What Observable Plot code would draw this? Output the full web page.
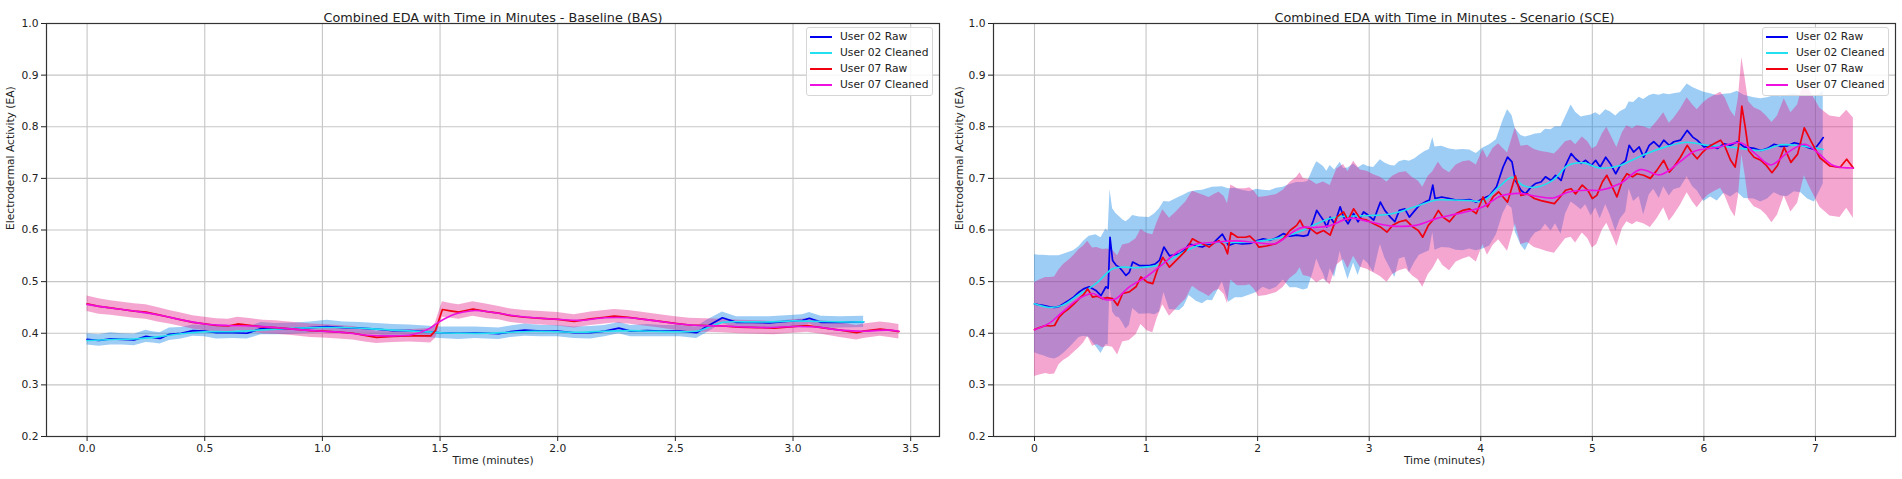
<!DOCTYPE html>
<html><head><meta charset="utf-8">
<script src="https://cdn.jsdelivr.net/npm/d3@7"></script>
<script src="https://cdn.jsdelivr.net/npm/@observablehq/plot@0.6"></script>
<style>
body{margin:0;background:#fff;}
#wrap{position:relative;width:1902px;height:479px;overflow:hidden;background:#fff;font-family:"DejaVu Sans",sans-serif;}
.pane{position:absolute;top:0;}
.legend{position:absolute;top:27px;width:125px;height:67px;border:1px solid #d6d6d6;border-radius:3px;background:rgba(255,255,255,0.85);font-size:10.7px;color:#222;}
.item{position:absolute;left:0;height:16px;width:125px;}
.sw{position:absolute;left:3px;top:7px;width:22px;height:2px;}
.lb{position:absolute;left:33px;top:0;line-height:16px;white-space:nowrap;}
</style></head><body><div id="wrap"></div>
<script>
// ---------- shared ----------
const seriesNames = ["User 02 Raw", "User 02 Cleaned", "User 07 Raw", "User 07 Cleaned"];
const seriesColors = ["#0000f0", "#22e0f0", "#f00010", "#ee10e0"];
const yTicks = [0.2, 0.3, 0.4, 0.5, 0.6, 0.7, 0.8, 0.9, 1.0];
const basXTicks = [0, 0.5, 1.0, 1.5, 2.0, 2.5, 3.0, 3.5];
const sceXTicks = [0, 1, 2, 3, 4, 5, 6, 7];
const basTitle = "Combined EDA with Time in Minutes - Baseline (BAS)";
const sceTitle = "Combined EDA with Time in Minutes - Scenario (SCE)";

// ---------- Baseline: [time, value, spread] ----------
const bas02Raw = [[0.00,0.388,0.011],[0.05,0.386,0.011],[0.10,0.389,0.012],[0.15,0.388,0.011],[0.20,0.387,0.011],[0.25,0.394,0.012],[0.28,0.392,0.011],[0.31,0.390,0.011],[0.35,0.398,0.012],[0.40,0.400,0.011],[0.45,0.405,0.011],[0.50,0.404,0.011],[0.55,0.401,0.012],[0.62,0.401,0.011],[0.68,0.400,0.011],[0.74,0.409,0.012],[0.80,0.408,0.011],[0.88,0.409,0.011],[0.95,0.411,0.011],[1.02,0.413,0.012],[1.09,0.411,0.011],[1.16,0.410,0.011],[1.23,0.408,0.011],[1.30,0.405,0.012],[1.37,0.405,0.011],[1.44,0.403,0.011],[1.50,0.401,0.011],[1.58,0.400,0.012],[1.65,0.401,0.011],[1.75,0.399,0.011],[1.80,0.403,0.011],[1.86,0.406,0.012],[1.93,0.404,0.011],[2.00,0.404,0.011],[2.07,0.401,0.011],[2.14,0.401,0.012],[2.20,0.404,0.011],[2.26,0.410,0.011],[2.31,0.404,0.011],[2.38,0.405,0.012],[2.45,0.404,0.011],[2.52,0.404,0.011],[2.59,0.401,0.011],[2.63,0.412,0.012],[2.70,0.430,0.011],[2.76,0.421,0.011],[2.83,0.421,0.011],[2.90,0.420,0.012],[2.97,0.423,0.011],[3.04,0.425,0.011],[3.07,0.429,0.011],[3.12,0.421,0.012],[3.20,0.421,0.011],[3.30,0.422,0.011]];
const bas02Clean = [[0.00,0.386],[0.10,0.388],[0.20,0.389],[0.30,0.393],[0.40,0.399],[0.50,0.403],[0.60,0.403],[0.70,0.405],[0.80,0.408],[0.90,0.410],[1.00,0.411],[1.10,0.411],[1.20,0.409],[1.30,0.406],[1.40,0.404],[1.50,0.401],[1.60,0.400],[1.70,0.400],[1.80,0.402],[1.90,0.404],[2.00,0.403],[2.10,0.402],[2.20,0.404],[2.30,0.405],[2.40,0.404],[2.50,0.403],[2.60,0.405],[2.65,0.413],[2.70,0.421],[2.80,0.422],[2.90,0.422],[3.00,0.424],[3.10,0.423],[3.20,0.422],[3.30,0.422]];
const bas07Raw = [[0.00,0.457,0.015],[0.05,0.452,0.015],[0.10,0.449,0.014],[0.15,0.446,0.014],[0.20,0.443,0.014],[0.25,0.441,0.014],[0.30,0.436,0.014],[0.35,0.431,0.013],[0.40,0.426,0.013],[0.45,0.421,0.013],[0.50,0.418,0.013],[0.55,0.415,0.013],[0.60,0.414,0.013],[0.64,0.418,0.013],[0.70,0.415,0.013],[0.75,0.412,0.013],[0.80,0.411,0.013],[0.88,0.408,0.013],[0.95,0.405,0.013],[1.00,0.404,0.013],[1.07,0.402,0.013],[1.13,0.400,0.013],[1.18,0.396,0.013],[1.23,0.392,0.012],[1.30,0.394,0.012],[1.37,0.395,0.012],[1.42,0.395,0.013],[1.46,0.395,0.014],[1.48,0.405,0.015],[1.51,0.446,0.015],[1.55,0.443,0.014],[1.58,0.441,0.014],[1.64,0.447,0.014],[1.70,0.442,0.014],[1.75,0.439,0.013],[1.80,0.434,0.013],[1.86,0.431,0.013],[1.93,0.429,0.013],[2.00,0.427,0.013],[2.07,0.423,0.013],[2.14,0.428,0.013],[2.20,0.431,0.013],[2.24,0.433,0.013],[2.30,0.431,0.013],[2.35,0.428,0.013],[2.42,0.424,0.013],[2.50,0.419,0.013],[2.56,0.416,0.013],[2.63,0.415,0.013],[2.70,0.414,0.013],[2.77,0.412,0.013],[2.85,0.411,0.013],[2.92,0.410,0.013],[3.00,0.413,0.013],[3.06,0.415,0.013],[3.12,0.411,0.013],[3.20,0.406,0.014],[3.27,0.401,0.014],[3.30,0.404,0.014],[3.37,0.408,0.014],[3.41,0.406,0.014],[3.45,0.403,0.014]];
const bas07Clean = [[0.00,0.456],[0.10,0.449],[0.20,0.443],[0.30,0.436],[0.40,0.426],[0.50,0.418],[0.60,0.415],[0.70,0.414],[0.80,0.411],[0.90,0.407],[1.00,0.404],[1.10,0.401],[1.20,0.396],[1.30,0.395],[1.38,0.397],[1.45,0.408],[1.50,0.423],[1.55,0.435],[1.60,0.441],[1.65,0.444],[1.70,0.442],[1.80,0.435],[1.90,0.430],[2.00,0.427],[2.10,0.425],[2.20,0.430],[2.30,0.430],[2.40,0.425],[2.50,0.419],[2.60,0.415],[2.70,0.414],[2.80,0.412],[2.90,0.411],[3.00,0.413],[3.10,0.412],[3.20,0.406],[3.30,0.404],[3.40,0.406],[3.45,0.404]];

// ---------- Scenario: [time, value, spread] ----------
const sce02Raw = [[0.000,0.457,0.095],[0.040,0.455,0.096],[0.075,0.454,0.097],[0.134,0.451,0.099],[0.180,0.450,0.100],[0.220,0.452,0.098],[0.260,0.457,0.096],[0.310,0.464,0.093],[0.350,0.470,0.090],[0.400,0.480,0.088],[0.440,0.486,0.092],[0.490,0.490,0.098],[0.550,0.483,0.108],[0.596,0.473,0.112],[0.640,0.490,0.112],[0.660,0.487,0.110],[0.677,0.586,0.092],[0.700,0.541,0.100],[0.730,0.532,0.100],[0.760,0.528,0.098],[0.790,0.520,0.100],[0.820,0.512,0.104],[0.850,0.518,0.103],[0.880,0.538,0.090],[0.940,0.531,0.094],[1.030,0.531,0.093],[1.080,0.534,0.098],[1.120,0.541,0.100],[1.160,0.567,0.088],[1.210,0.550,0.104],[1.300,0.554,0.110],[1.340,0.560,0.108],[1.386,0.573,0.100],[1.450,0.569,0.107],[1.505,0.567,0.110],[1.550,0.572,0.108],[1.595,0.573,0.110],[1.684,0.592,0.092],[1.740,0.570,0.110],[1.800,0.575,0.106],[1.860,0.573,0.104],[1.930,0.574,0.100],[1.990,0.579,0.100],[2.050,0.583,0.094],[2.110,0.580,0.096],[2.170,0.585,0.096],[2.230,0.593,0.090],[2.290,0.588,0.100],[2.350,0.590,0.102],[2.410,0.588,0.104],[2.450,0.590,0.104],[2.500,0.619,0.100],[2.530,0.638,0.094],[2.560,0.628,0.100],[2.590,0.619,0.104],[2.620,0.606,0.108],[2.650,0.625,0.100],[2.690,0.612,0.104],[2.740,0.645,0.086],[2.770,0.625,0.094],[2.810,0.612,0.108],[2.860,0.632,0.096],[2.900,0.616,0.104],[2.950,0.635,0.092],[2.990,0.629,0.094],[3.040,0.619,0.102],[3.100,0.654,0.082],[3.140,0.638,0.092],[3.190,0.625,0.100],[3.230,0.616,0.108],[3.270,0.638,0.094],[3.320,0.641,0.094],[3.360,0.625,0.108],[3.410,0.638,0.100],[3.450,0.648,0.097],[3.500,0.654,0.098],[3.540,0.658,0.098],[3.570,0.687,0.092],[3.590,0.661,0.100],[3.650,0.664,0.098],[3.720,0.661,0.096],[3.780,0.658,0.097],[3.840,0.658,0.098],[3.900,0.659,0.096],[3.960,0.654,0.094],[4.020,0.661,0.098],[4.080,0.667,0.098],[4.140,0.683,0.092],[4.200,0.722,0.090],[4.240,0.741,0.092],[4.280,0.732,0.090],[4.310,0.696,0.100],[4.360,0.677,0.106],[4.400,0.670,0.110],[4.450,0.683,0.100],[4.490,0.690,0.096],[4.540,0.693,0.094],[4.580,0.703,0.092],[4.630,0.696,0.098],[4.670,0.706,0.094],[4.720,0.696,0.104],[4.760,0.725,0.094],[4.810,0.748,0.094],[4.850,0.738,0.090],[4.900,0.729,0.090],[4.940,0.735,0.086],[4.990,0.725,0.098],[5.030,0.735,0.092],[5.070,0.722,0.100],[5.120,0.741,0.092],[5.160,0.729,0.100],[5.210,0.709,0.112],[5.250,0.725,0.104],[5.300,0.735,0.100],[5.330,0.764,0.084],[5.370,0.751,0.096],[5.420,0.761,0.096],[5.460,0.741,0.112],[5.510,0.764,0.096],[5.550,0.771,0.092],[5.600,0.761,0.100],[5.640,0.774,0.090],[5.690,0.764,0.098],[5.730,0.771,0.093],[5.790,0.774,0.092],[5.850,0.793,0.090],[5.900,0.780,0.096],[5.940,0.774,0.098],[6.000,0.761,0.106],[6.060,0.764,0.100],[6.120,0.758,0.102],[6.180,0.767,0.096],[6.240,0.764,0.100],[6.300,0.771,0.098],[6.360,0.761,0.100],[6.450,0.758,0.098],[6.510,0.754,0.100],[6.570,0.758,0.098],[6.630,0.766,0.094],[6.690,0.762,0.096],[6.750,0.763,0.098],[6.810,0.769,0.095],[6.870,0.766,0.094],[6.930,0.760,0.100],[6.990,0.756,0.102],[7.040,0.770,0.094],[7.070,0.779,0.090]];
const sce02Clean = [[0.00,0.457],[0.13,0.450],[0.25,0.454],[0.40,0.475],[0.55,0.496],[0.70,0.525],[0.79,0.528],[0.91,0.527],[1.09,0.531],[1.21,0.542],[1.36,0.560],[1.50,0.572],[1.68,0.576],[1.86,0.576],[2.04,0.579],[2.22,0.586],[2.40,0.599],[2.53,0.612],[2.64,0.622],[2.74,0.626],[2.86,0.627],[3.00,0.628],[3.16,0.630],[3.30,0.637],[3.45,0.648],[3.60,0.658],[3.75,0.658],[3.90,0.657],[4.02,0.656],[4.17,0.685],[4.28,0.702],[4.38,0.686],[4.50,0.683],[4.65,0.697],[4.78,0.725],[4.92,0.730],[5.07,0.720],[5.25,0.725],[5.43,0.743],[5.67,0.762],[5.85,0.770],[6.03,0.764],[6.27,0.760],[6.51,0.754],[6.69,0.765],[6.87,0.763],[7.07,0.756]];
const sce07Raw = [[0.000,0.407,0.091],[0.045,0.411,0.092],[0.100,0.415,0.093],[0.140,0.414,0.094],[0.180,0.415,0.094],[0.220,0.431,0.092],[0.260,0.440,0.093],[0.310,0.448,0.094],[0.350,0.456,0.094],[0.400,0.467,0.095],[0.440,0.475,0.094],[0.477,0.486,0.092],[0.520,0.470,0.095],[0.560,0.472,0.094],[0.610,0.467,0.095],[0.650,0.469,0.094],[0.700,0.467,0.094],[0.745,0.454,0.096],[0.790,0.477,0.094],[0.850,0.480,0.094],[0.910,0.490,0.093],[0.954,0.509,0.092],[1.010,0.499,0.094],[1.060,0.496,0.095],[1.100,0.522,0.093],[1.150,0.547,0.092],[1.210,0.528,0.095],[1.270,0.541,0.094],[1.310,0.550,0.094],[1.356,0.560,0.094],[1.416,0.583,0.092],[1.475,0.576,0.094],[1.520,0.572,0.095],[1.565,0.567,0.096],[1.610,0.575,0.094],[1.654,0.579,0.094],[1.700,0.570,0.095],[1.730,0.554,0.097],[1.760,0.595,0.092],[1.820,0.586,0.094],[1.890,0.586,0.094],[1.930,0.588,0.094],[1.970,0.580,0.095],[2.010,0.567,0.096],[2.080,0.569,0.096],[2.170,0.574,0.095],[2.230,0.583,0.094],[2.290,0.599,0.093],[2.350,0.609,0.093],[2.380,0.619,0.092],[2.410,0.606,0.094],[2.470,0.603,0.094],[2.530,0.593,0.095],[2.590,0.599,0.094],[2.650,0.590,0.096],[2.710,0.625,0.093],[2.770,0.635,0.092],[2.810,0.619,0.094],[2.860,0.641,0.092],[2.920,0.622,0.094],[2.980,0.619,0.095],[3.040,0.612,0.095],[3.100,0.606,0.096],[3.160,0.596,0.097],[3.210,0.609,0.095],[3.270,0.616,0.095],[3.330,0.619,0.094],[3.390,0.606,0.095],[3.440,0.599,0.096],[3.480,0.586,0.097],[3.530,0.609,0.095],[3.570,0.619,0.094],[3.620,0.638,0.093],[3.660,0.625,0.094],[3.720,0.616,0.095],[3.780,0.632,0.094],[3.840,0.638,0.094],[3.900,0.641,0.093],[3.960,0.632,0.094],[4.020,0.664,0.092],[4.060,0.645,0.094],[4.110,0.664,0.094],[4.160,0.674,0.093],[4.200,0.664,0.094],[4.240,0.654,0.095],[4.310,0.705,0.093],[4.360,0.667,0.095],[4.420,0.670,0.094],[4.480,0.661,0.095],[4.540,0.657,0.095],[4.600,0.654,0.096],[4.660,0.651,0.096],[4.700,0.661,0.095],[4.760,0.677,0.094],[4.810,0.680,0.094],[4.850,0.670,0.095],[4.910,0.687,0.093],[4.960,0.677,0.094],[5.000,0.661,0.096],[5.040,0.667,0.095],[5.090,0.693,0.093],[5.130,0.706,0.093],[5.180,0.683,0.094],[5.220,0.664,0.096],[5.270,0.696,0.093],[5.310,0.709,0.093],[5.360,0.703,0.093],[5.400,0.709,0.093],[5.460,0.706,0.094],[5.520,0.700,0.095],[5.580,0.716,0.094],[5.640,0.735,0.092],[5.690,0.712,0.095],[5.730,0.722,0.094],[5.790,0.741,0.093],[5.850,0.764,0.092],[5.900,0.748,0.094],[5.940,0.738,0.095],[5.990,0.751,0.094],[6.040,0.761,0.093],[6.090,0.767,0.093],[6.150,0.774,0.093],[6.190,0.761,0.095],[6.240,0.735,0.096],[6.280,0.722,0.097],[6.310,0.761,0.095],[6.340,0.840,0.094],[6.370,0.800,0.094],[6.400,0.754,0.095],[6.450,0.741,0.096],[6.510,0.735,0.096],[6.560,0.725,0.096],[6.610,0.711,0.097],[6.660,0.725,0.096],[6.720,0.760,0.094],[6.780,0.731,0.096],[6.840,0.747,0.095],[6.900,0.798,0.093],[6.960,0.772,0.094],[7.040,0.740,0.096],[7.130,0.724,0.097],[7.220,0.721,0.097],[7.280,0.737,0.095],[7.340,0.720,0.097]];
const sce07Clean = [[0.00,0.407],[0.13,0.419],[0.25,0.441],[0.40,0.467],[0.52,0.477],[0.64,0.465],[0.73,0.467],[0.85,0.490],[1.00,0.509],[1.15,0.534],[1.30,0.560],[1.45,0.573],[1.62,0.576],[1.80,0.579],[1.98,0.576],[2.16,0.574],[2.38,0.604],[2.52,0.605],[2.64,0.608],[2.83,0.623],[3.00,0.616],[3.19,0.608],[3.42,0.609],[3.60,0.622],[3.72,0.628],[3.90,0.637],[4.02,0.645],[4.18,0.666],[4.35,0.671],[4.48,0.666],[4.65,0.662],[4.78,0.673],[4.95,0.677],[5.07,0.677],[5.25,0.690],[5.43,0.717],[5.61,0.707],[5.79,0.733],[5.91,0.752],[6.12,0.760],[6.33,0.769],[6.45,0.750],[6.60,0.726],[6.75,0.750],[6.90,0.766],[7.01,0.752],[7.16,0.725],[7.34,0.720]];

// ---------- drawing ----------
const wrap = document.getElementById("wrap");
const fx = d => d[0], fy = d => d[1];

function panel(o) {
  const chart = Plot.plot({
    width: o.width, height: 479,
    marginTop: 23, marginBottom: 43, marginLeft: o.marginLeft, marginRight: o.marginRight,
    style: {fontFamily: "DejaVu Sans", fontSize: "10.7px", color: "#222", background: "#fff"},
    x: {domain: o.xDomain, label: null},
    y: {domain: [0.2, 1.0], label: null},
    marks: [
      Plot.gridX(o.xTicks, {stroke: "#c6c6c6", strokeOpacity: 1, strokeWidth: 1.1}),
      Plot.gridY(yTicks, {stroke: "#c6c6c6", strokeOpacity: 1, strokeWidth: 1.1}),
      Plot.areaY(o.raw02, {x: fx, y1: d => d[1] - d[2], y2: d => d[1] + d[2], fill: "#0a7fe6", fillOpacity: 0.4}),
      Plot.areaY(o.raw07, {x: fx, y1: d => d[1] - d[2], y2: d => d[1] + d[2], fill: "#e3208c", fillOpacity: 0.4}),
      Plot.line(o.raw02, {x: fx, y: fy, stroke: seriesColors[0], strokeWidth: 1.7}),
      Plot.line(o.clean02, {x: fx, y: fy, stroke: seriesColors[1], strokeWidth: 1.6, curve: "catmull-rom"}),
      Plot.line(o.raw07, {x: fx, y: fy, stroke: seriesColors[2], strokeWidth: 1.7}),
      Plot.line(o.clean07, {x: fx, y: fy, stroke: seriesColors[3], strokeWidth: 1.6, curve: "catmull-rom"}),
      Plot.frame({stroke: "#333", strokeWidth: 1.2}),
      Plot.axisX({ticks: o.xTicks, tickFormat: o.xFmt, tickSize: 5, tickPadding: 3, label: null}),
      Plot.axisY({ticks: yTicks, tickFormat: d3.format(".1f"), tickSize: 5, tickPadding: 3, label: null}),
      Plot.text([o.title], {text: d => d, frameAnchor: "top", dy: -11, fontSize: 12.8, fill: "#222"}),
      Plot.text(["Time (minutes)"], {text: d => d, frameAnchor: "bottom", dy: 27.5, fontSize: 10.7, fill: "#222"}),
      Plot.text(["Electrodermal Activity (EA)"], {text: d => d, frameAnchor: "left", rotate: -90, dx: -o.yLabelGap, fontSize: 10.7, fill: "#222"})
    ]
  });
  const pane = document.createElement("div");
  pane.className = "pane";
  pane.style.left = o.left + "px";
  pane.appendChild(chart);
  wrap.appendChild(pane);

  const lg = document.createElement("div");
  lg.className = "legend";
  lg.style.left = o.legendLeft + "px";
  seriesNames.forEach((name, i) => {
    const it = document.createElement("div");
    it.className = "item";
    it.style.top = (i * 16.2 + 0.7) + "px";
    const sw = document.createElement("div");
    sw.className = "sw"; sw.style.background = seriesColors[i];
    const lb = document.createElement("div");
    lb.className = "lb"; lb.textContent = name;
    it.appendChild(sw); it.appendChild(lb);
    lg.appendChild(it);
  });
  wrap.appendChild(lg);
}

panel({
  left: 0, width: 950, marginLeft: 46, marginRight: 11,
  xDomain: [-0.1725, 3.6225], xTicks: basXTicks, xFmt: d3.format(".1f"),
  raw02: bas02Raw, clean02: bas02Clean, raw07: bas07Raw, clean07: bas07Clean,
  title: basTitle, yLabelGap: 36, legendLeft: 806
});
panel({
  left: 950, width: 952, marginLeft: 43, marginRight: 7,
  xDomain: [-0.3675, 7.7175], xTicks: sceXTicks, xFmt: d3.format("d"),
  raw02: sce02Raw, clean02: sce02Clean, raw07: sce07Raw, clean07: sce07Clean,
  title: sceTitle, yLabelGap: 34, legendLeft: 1762
});
</script></body></html>
